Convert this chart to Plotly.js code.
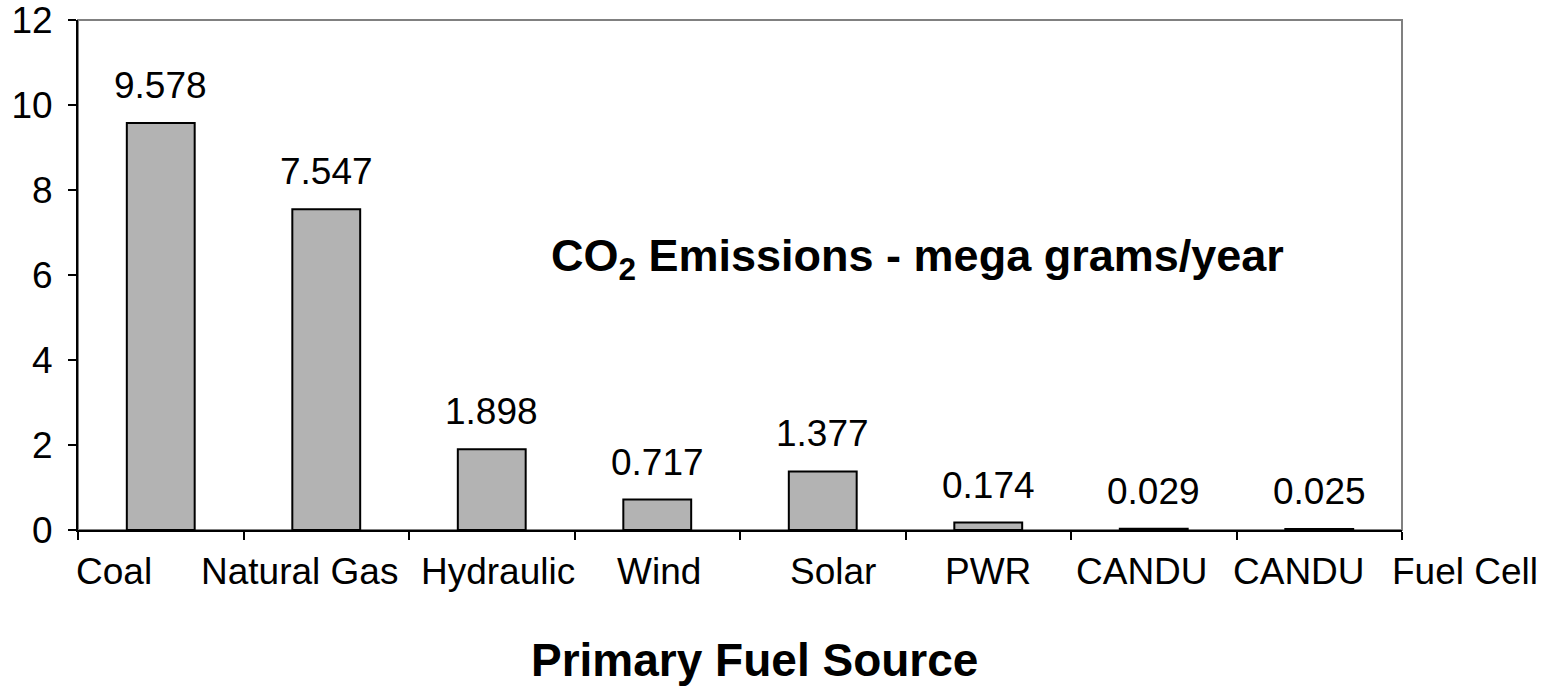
<!DOCTYPE html>
<html>
<head>
<meta charset="utf-8">
<script src="https://cdn.plot.ly/plotly-3.0.1.min.js"></script>
<style>
  html, body { margin: 0; padding: 0; background: #ffffff; }
  #chart { width: 1550px; height: 693px; }
</style>
</head>
<body>
<div id="chart"></div>
<script>
// ---- data ----
const categories = ['Coal', 'Natural Gas', 'Hydraulic', 'Wind', 'Solar', 'PWR', 'CANDU', 'CANDU', 'Fuel Cell'];
const emissions = [9.578, 7.547, 1.898, 0.717, 1.377, 0.174, 0.029, 0.025];
const yTickVals = [0, 2, 4, 6, 8, 10, 12];
const chartTitle = 'CO<sub>2</sub> Emissions - mega grams/year';
const xAxisTitle = 'Primary Fuel Source';

// ---- layout helpers (label placement along the category axis, as in the original) ----
const labelOffsets = [0.22, 1.34, 2.54, 3.51, 4.56, 5.50, 6.43, 7.38, 8.38];

const FONT = '"Liberation Sans", Arial, Helvetica, sans-serif';
const nSlots = emissions.length;
const xTickVals = Array.from({length: nSlots + 1}, (_, i) => i);
const barX = emissions.map((_, i) => i + 0.5);

const trace = {
  type: 'bar',
  x: barX,
  y: emissions,
  width: 0.41,
  marker: { color: '#b3b3b3', line: { color: '#000000', width: 2 } },
  hoverinfo: 'y',
  showlegend: false
};

const annotations = [];
// value labels
emissions.forEach((v, i) => {
  annotations.push({
    x: barX[i], y: v, xref: 'x', yref: 'y',
    text: v.toFixed(3), showarrow: false,
    xanchor: 'center', yanchor: 'bottom', yshift: 15,
    font: { family: FONT, size: 37, color: '#000' }
  });
});
// category labels (paper coordinates so the last one may sit past the axis end)
categories.forEach((c, i) => {
  annotations.push({
    x: labelOffsets[i] / nSlots, y: 0, xref: 'paper', yref: 'paper',
    text: c, showarrow: false,
    xanchor: 'center', yanchor: 'top', yshift: -19,
    font: { family: FONT, size: 37, color: '#000' }
  });
});
// inner title
annotations.push({
  x: 0.634, y: 0.533, xref: 'paper', yref: 'paper',
  text: '<b>' + chartTitle + '</b>', showarrow: false,
  xanchor: 'center', yanchor: 'middle',
  font: { family: FONT, size: 45, color: '#000' }
});
// x-axis title
annotations.push({
  x: 0.511, y: 0, xref: 'paper', yref: 'paper',
  text: '<b>' + xAxisTitle + '</b>', showarrow: false,
  xanchor: 'center', yanchor: 'top', yshift: -102,
  font: { family: FONT, size: 46, color: '#000' }
});

const layout = {
  width: 1550, height: 693,
  margin: { l: 78, r: 148, t: 20, b: 163, pad: 0 },
  paper_bgcolor: '#ffffff', plot_bgcolor: '#ffffff',
  font: { family: FONT, size: 37, color: '#000' },
  showlegend: false,
  xaxis: {
    range: [0, nSlots], tickvals: xTickVals, showticklabels: false,
    ticks: 'outside', ticklen: 8, tickwidth: 2, tickcolor: '#000',
    showline: true, linecolor: '#000', linewidth: 2,
    showgrid: false, zeroline: false, fixedrange: true
  },
  xaxis2: {
    overlaying: 'x', anchor: 'y', side: 'bottom',
    range: [0, nSlots], tickvals: xTickVals, showticklabels: false,
    ticks: 'inside', ticklen: 10, tickwidth: 2, tickcolor: '#000',
    showline: false, showgrid: false, zeroline: false, fixedrange: true
  },
  yaxis: {
    range: [0, 12.0001], tickvals: yTickVals, ticktext: yTickVals.map(String),
    ticks: 'outside', ticklen: 8, tickwidth: 2, tickcolor: '#000',
    tickfont: { family: FONT, size: 37, color: '#000' },
    ticklabelstandoff: 8, ticklabeloverflow: 'allow',
    showline: true, linecolor: '#000', linewidth: 2,
    showgrid: false, zeroline: false, fixedrange: true
  },
  yaxis2: {
    overlaying: 'y', anchor: 'x', side: 'left',
    range: [0, 12.0001], tickvals: yTickVals, showticklabels: false,
    ticks: 'inside', ticklen: 9, tickwidth: 2, tickcolor: '#000',
    showline: false, showgrid: false, zeroline: false, fixedrange: true
  },
  shapes: [{
    type: 'rect', xref: 'paper', yref: 'paper', x0: 0, x1: 1, y0: 0, y1: 1,
    line: { color: '#808080', width: 2 }, layer: 'below'
  }],
  annotations: annotations
};

Plotly.newPlot('chart', [trace], layout, { displayModeBar: false, staticPlot: true });
</script>
</body>
</html>
